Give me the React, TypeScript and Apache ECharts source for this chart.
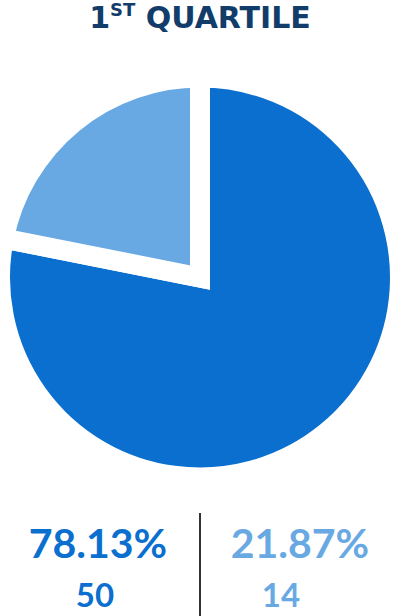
import React, { useEffect, useRef } from "react";
import * as echarts from "echarts";

const categories = ["Group A", "Group B"];
const counts = [50, 14];
const percentLabels = ["78.13%", "21.87%"];
const countLabels = ["50", "14"];
const colors = ["#0a6fcf", "#69a9e3"];

export default function App() {
  const ref = useRef<HTMLDivElement>(null);
  useEffect(() => {
    if (!ref.current) return;
    const chart = echarts.init(ref.current, undefined, { renderer: "svg" });
    chart.setOption({
      animation: false,
      title: {
        text: "{a|1}{b|ST}{a| QUARTILE}",
        left: "center",
        top: 0,
        padding: 0,
        textStyle: {
          rich: {
            a: {
              fontFamily: "DejaVu Sans",
              fontWeight: "bold",
              fontSize: 30,
              color: "#123d6a",
              lineHeight: 34,
            },
            b: {
              fontFamily: "DejaVu Sans",
              fontWeight: "bold",
              fontSize: 18,
              color: "#123d6a",
              verticalAlign: "top",
              lineHeight: 22,
            },
          },
        },
      },
      series: [
        {
          type: "pie",
          center: [200, 277.5],
          radius: 200,
          startAngle: 90,
          clockwise: true,
          silent: true,
          label: { show: false },
          labelLine: { show: false },
          itemStyle: { borderColor: "#ffffff", borderWidth: 20, borderJoin: "miter" },
          data: categories.map((name, i) => ({
            name,
            value: counts[i],
            itemStyle: { color: colors[i] },
          })),
        },
      ],
      graphic: [
        {
          type: "text",
          style: {
            text: percentLabels[0],
            x: 98,
            y: 542,
            align: "center",
            verticalAlign: "middle",
            font: "bold 41px Lato",
            fill: colors[0],
          },
        },
        {
          type: "text",
          style: {
            text: countLabels[0],
            x: 95,
            y: 594,
            align: "center",
            verticalAlign: "middle",
            font: "bold 33px Lato",
            fill: colors[0],
          },
        },
        {
          type: "text",
          style: {
            text: percentLabels[1],
            x: 300,
            y: 542,
            align: "center",
            verticalAlign: "middle",
            font: "bold 41px Lato",
            fill: colors[1],
          },
        },
        {
          type: "text",
          style: {
            text: countLabels[1],
            x: 281,
            y: 594,
            align: "center",
            verticalAlign: "middle",
            font: "bold 33px Lato",
            fill: colors[1],
          },
        },
        {
          type: "line",
          shape: { x1: 200, y1: 513, x2: 200, y2: 616 },
          style: { stroke: "#333333", lineWidth: 2 },
        },
      ],
    });
    return () => chart.dispose();
  }, []);
  return (
    <div
      ref={ref}
      style={{ position: "fixed", left: 0, top: 0, width: 400, height: 616, background: "#ffffff" }}
    />
  );
}
